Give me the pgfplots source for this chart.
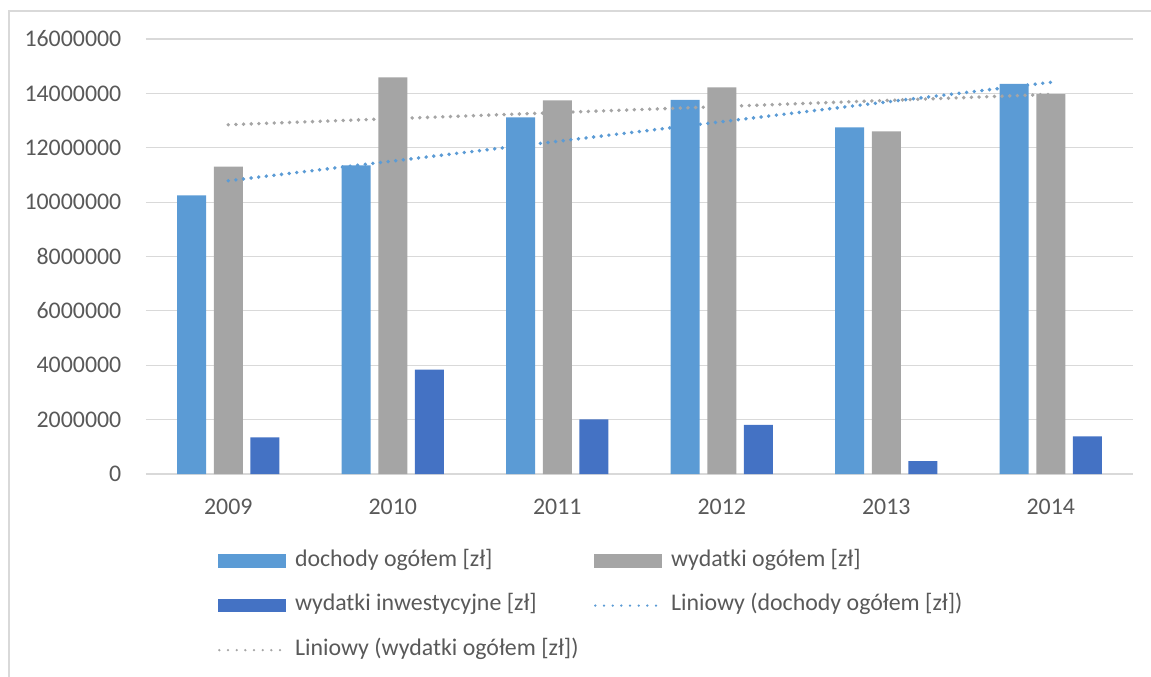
\documentclass[border=0pt]{standalone}
\usepackage{pgfplots}
\pgfplotsset{compat=1.18}
\usepackage{fontspec}
\setmainfont{Carlito}
\definecolor{doch}{HTML}{5B9BD5}
\definecolor{wyd}{HTML}{A5A5A5}
\definecolor{inw}{HTML}{4472C4}
\definecolor{txt}{HTML}{595959}
\definecolor{grd}{HTML}{D9D9D9}
\begin{document}
\begin{tikzpicture}
  \begin{axis}[
      at={(0,0)}, anchor=south west,
      scale only axis, width=740.25pt, height=326.25pt,
      xmin=-0.5, xmax=5.5, ymin=0, ymax=16000000,
      xtick={0,...,5}, xticklabels={2009,2010,2011,2012,2013,2014},
      ytick={0,2000000,...,16000000},
      scaled y ticks=false,
      yticklabel style={/pgf/number format/fixed, /pgf/number format/1000 sep={}},
      /pgf/number format/assume math mode=true,
      tick label style={font=\fontsize{17.9}{21}\selectfont, color=txt},
      major tick length=0pt,
      xtick style={draw=none}, ytick style={draw=none},
      axis line style={draw=none},
      ymajorgrids, grid style={grd, line width=0.9pt},
      xticklabel shift=15pt, yticklabel shift=15pt,
      legend columns=2,
      legend style={draw=none, fill=none, at={(0.0727,-0.175)}, anchor=north west,
        font=\fontsize{17.9}{21}\selectfont, text=txt, inner sep=0pt,
        row sep=17.4pt, column sep=0pt,
        nodes={inner xsep=6.75pt, inner ysep=0pt, text height=12pt, text depth=4pt}},
      legend cell align=left,
    ]
    \addplot[ybar, bar width=21.75pt, bar shift=-27.4pt, fill=doch, draw=none,
      legend image code/.code={\fill[doch] (0pt,-5pt) rectangle (51pt,5pt);}]
      coordinates {(0,10250000) (1,11350000) (2,13120000) (3,13760000) (4,12750000) (5,14350000)};
    \addlegendentry{\makebox[217.5pt][l]{dochody ogółem [zł]}}
    \addplot[ybar, bar width=21.75pt, bar shift=0pt, fill=wyd, draw=none,
      legend image code/.code={\fill[wyd] (0pt,-5pt) rectangle (51pt,5pt);}]
      coordinates {(0,11310000) (1,14590000) (2,13740000) (3,14220000) (4,12600000) (5,13970000)};
    \addlegendentry{wydatki ogółem [zł]}
    \addplot[ybar, bar width=21.75pt, bar shift=27.4pt, fill=inw, draw=none,
      legend image code/.code={\fill[inw] (0pt,-5pt) rectangle (51pt,5pt);}]
      coordinates {(0,1350000) (1,3840000) (2,2010000) (3,1810000) (4,470000) (5,1385000)};
    \addlegendentry{\makebox[217.5pt][l]{wydatki inwestycyjne [zł]}}
    \addplot[sharp plot, doch, line width=2.9pt, line cap=round, dash pattern=on 0pt off 5.75pt,
      legend image code/.code={\draw[doch, line width=1.9pt, line cap=round, dash pattern=on 0pt off 6.5pt] (1pt,0pt) -- (49pt,0pt);}]
      coordinates {(0,10787000) (5,14407000)};
    \addlegendentry{Liniowy (dochody ogółem [zł])}
    \addplot[sharp plot, wyd, line width=2.9pt, line cap=round, dash pattern=on 0pt off 5.75pt,
      legend image code/.code={\draw[wyd, line width=1.9pt, line cap=round, dash pattern=on 0pt off 6.5pt] (1pt,0pt) -- (49pt,0pt);}]
      coordinates {(0,12847000) (5,13963000)};
    \addlegendentry{\makebox[217.5pt][l]{Liniowy (wydatki ogółem [zł])}}
  \end{axis}
  \pgfresetboundingbox
  \draw[grd, line width=1.2pt] (-102.75pt,-170pt) rectangle (770pt,347.25pt);
  \pgfresetboundingbox
  \path[use as bounding box] (-109.5pt,-151.5pt) rectangle (753.75pt,355.5pt);
\end{tikzpicture}
\end{document}
